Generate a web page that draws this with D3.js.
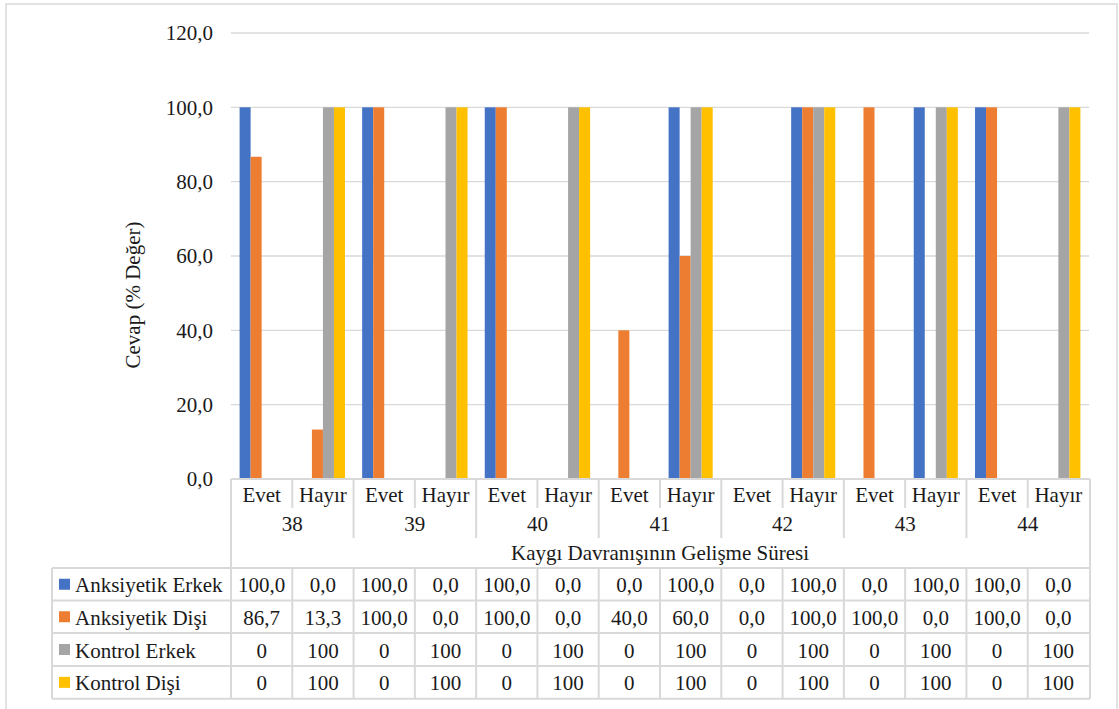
<!DOCTYPE html>
<html>
<head>
<meta charset="utf-8">
<script src="https://cdn.jsdelivr.net/npm/d3@7"></script>
<style>
  html, body { margin: 0; padding: 0; background: #fff; }
  svg { display: block; font-family: "Liberation Serif", "Times New Roman", serif; }
</style>
</head>
<body>
<svg id="chart" width="1119" height="709"></svg>
<script>
// Response durations (weeks) and answers per week
const groups = ["38", "39", "40", "41", "42", "43", "44"];
const answers = ["Evet", "Hayır"];
const categories = groups.flatMap(g => answers.map(a => g + "|" + a));

const seriesNames = ["Anksiyetik Erkek", "Anksiyetik Dişi", "Kontrol Erkek", "Kontrol Dişi"];
const anksiyetikErkek = [100, 0, 100, 0, 100, 0, 0, 100, 0, 100, 0, 100, 100, 0];
const anksiyetikDisi  = [86.7, 13.3, 100, 0, 100, 0, 40, 60, 0, 100, 100, 0, 100, 0];
const kontrolErkek    = [0, 100, 0, 100, 0, 100, 0, 100, 0, 100, 0, 100, 0, 100];
const kontrolDisi     = [0, 100, 0, 100, 0, 100, 0, 100, 0, 100, 0, 100, 0, 100];
const seriesValues = [anksiyetikErkek, anksiyetikDisi, kontrolErkek, kontrolDisi];
const seriesDecimals = [1, 1, 0, 0];
const yTicks = [0, 20, 40, 60, 80, 100, 120];

const colors = ["#4472C4", "#ED7D31", "#A5A5A5", "#FFC000"];
const lineColor = "#d9d9d9";
const textColor = "#1a1a1a";
const fontSize = 21;

const svg = d3.select("#chart");

// chart area border
svg.append("rect")
  .attr("x", 6).attr("y", 4).attr("width", 1111).attr("height", 720)
  .attr("fill", "none").attr("stroke", lineColor).attr("stroke-width", 1.5);

const plot = { left: 231, right: 1089, top: 33, bottom: 479 };

const x = d3.scaleBand().domain(categories).range([plot.left, plot.right]).padding(0);
const xs = d3.scaleBand().domain(seriesNames).range([0, x.bandwidth()])
  .paddingInner(0).paddingOuter(0.78);
const y = d3.scaleLinear().domain([0, 120]).range([plot.bottom, plot.top]);

const fmt = (v, d) => v.toFixed(d).replace(".", ",");

// gridlines
svg.append("g").selectAll("line").data(yTicks.filter(t => t > 0)).join("line")
  .attr("x1", plot.left).attr("x2", plot.right)
  .attr("y1", d => y(d)).attr("y2", d => y(d))
  .attr("stroke", lineColor).attr("stroke-width", 1.3);

// y axis labels
const yAxis = d3.axisLeft(y).tickValues(yTicks).tickSize(0).tickPadding(18)
  .tickFormat(d => fmt(d, 1));
const yg = svg.append("g").attr("transform", `translate(${plot.left},0)`).call(yAxis);
yg.select(".domain").remove();
yg.selectAll("text").attr("font-size", fontSize).attr("fill", textColor)
  .attr("font-family", "Liberation Serif, Times New Roman, serif");

// y axis title
svg.append("text")
  .attr("transform", "translate(140,295) rotate(-90)")
  .attr("text-anchor", "middle")
  .attr("font-size", fontSize).attr("fill", textColor)
  .text("Cevap (% Değer)");

// bars
seriesNames.forEach((name, si) => {
  svg.append("g").selectAll("rect")
    .data(seriesValues[si].map((v, i) => ({ cat: categories[i], v })))
    .join("rect")
    .attr("x", d => x(d.cat) + xs(name))
    .attr("width", xs.bandwidth())
    .attr("y", d => y(d.v))
    .attr("height", d => y(0) - y(d.v))
    .attr("fill", colors[si]);
});

// ---- data table below the plot ----
const tbl = {
  left: 52,
  axisRow: [479, 508],
  groupRow: [508, 538],
  titleRow: [538, 568],
  rows: [568, 600.5, 633, 666, 698.7]
};
const lines = svg.append("g").attr("stroke", lineColor).attr("stroke-width", 2).attr("fill", "none");

// x axis line
lines.append("line").attr("x1", plot.left).attr("x2", plot.right + 1)
  .attr("y1", plot.bottom).attr("y2", plot.bottom);
// left and right border of header area
lines.append("line").attr("x1", plot.left).attr("x2", plot.left)
  .attr("y1", plot.bottom).attr("y2", tbl.rows[4]);
lines.append("line").attr("x1", plot.right + 1).attr("x2", plot.right + 1)
  .attr("y1", plot.bottom).attr("y2", tbl.rows[4]);
// separators between answers within a group
categories.forEach((c, i) => {
  if (i === 0) return;
  const xx = x(c);
  const isGroupEdge = i % 2 === 0;
  lines.append("line").attr("x1", xx).attr("x2", xx)
    .attr("y1", plot.bottom)
    .attr("y2", isGroupEdge ? tbl.groupRow[1] : tbl.axisRow[1]);
  // data cell verticals
  lines.append("line").attr("x1", xx).attr("x2", xx)
    .attr("y1", tbl.rows[0]).attr("y2", tbl.rows[4]);
});
// horizontal row lines
tbl.rows.forEach(ry => {
  lines.append("line").attr("x1", tbl.left).attr("x2", plot.right + 1)
    .attr("y1", ry).attr("y2", ry);
});
// legend column left border
lines.append("line").attr("x1", tbl.left).attr("x2", tbl.left)
  .attr("y1", tbl.rows[0]).attr("y2", tbl.rows[4]);

const txt = svg.append("g").attr("font-size", fontSize).attr("fill", textColor)
  .attr("dominant-baseline", "central");

// answer labels
txt.selectAll(".ans").data(categories).join("text")
  .attr("x", d => x(d) + x.bandwidth() / 2)
  .attr("y", (tbl.axisRow[0] + tbl.axisRow[1]) / 2 + 1)
  .attr("text-anchor", "middle")
  .text(d => d.split("|")[1]);

// group labels
txt.selectAll(".grp").data(groups).join("text")
  .attr("x", g => x(g + "|Evet") + x.bandwidth())
  .attr("y", (tbl.groupRow[0] + tbl.groupRow[1]) / 2 + 1)
  .attr("text-anchor", "middle")
  .text(g => g);

// axis title
txt.append("text")
  .attr("x", (plot.left + plot.right) / 2)
  .attr("y", (tbl.titleRow[0] + tbl.titleRow[1]) / 2)
  .attr("text-anchor", "middle")
  .text("Kaygı Davranışının Gelişme Süresi");

// data rows
seriesNames.forEach((name, si) => {
  const top = tbl.rows[si], bot = tbl.rows[si + 1];
  const cy = (top + bot) / 2;
  svg.append("rect")
    .attr("x", 59).attr("y", cy - 5.5).attr("width", 11).attr("height", 11)
    .attr("fill", colors[si]);
  txt.append("text").attr("x", 75).attr("y", cy + 1).text(name);
  txt.append("g").selectAll("text").data(seriesValues[si]).join("text")
    .attr("x", (v, i) => x(categories[i]) + x.bandwidth() / 2)
    .attr("y", cy + 1)
    .attr("text-anchor", "middle")
    .text(v => fmt(v, seriesDecimals[si]));
});
</script>
</body>
</html>
